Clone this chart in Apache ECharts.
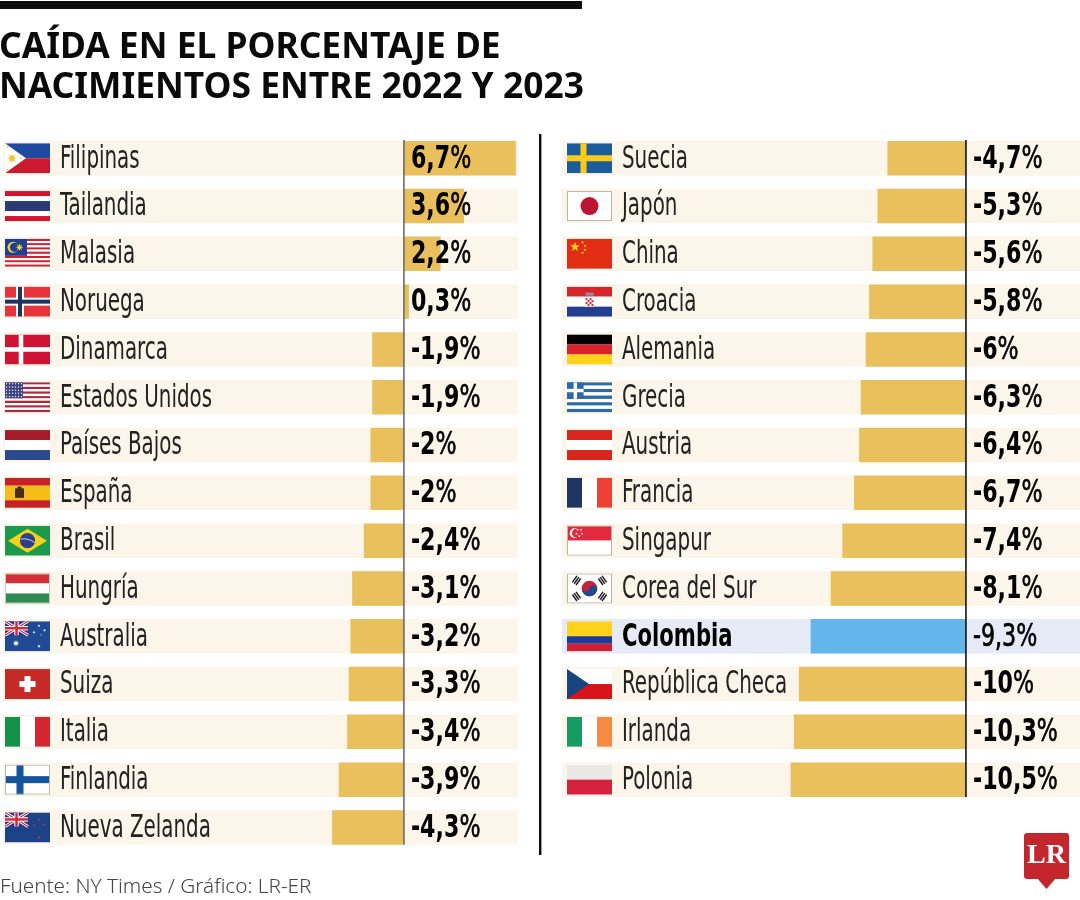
<!DOCTYPE html>
<html><head><meta charset="utf-8">
<style>html,body{margin:0;padding:0;background:#fff}#c{width:1080px;height:900px}</style>
<script src="https://cdn.jsdelivr.net/npm/echarts@6/dist/echarts.min.js"></script>
</head><body><div id="c"></div>
<script>
const titleText = 'CAÍDA EN EL PORCENTAJE DE\nNACIMIENTOS ENTRE 2022 Y 2023';
const sourceText = 'Fuente: NY Times / Gráfico: LR-ER';
const highlight = 'Colombia';

const leftCountries = ['Filipinas','Tailandia','Malasia','Noruega','Dinamarca','Estados Unidos','Países Bajos','España','Brasil','Hungría','Australia','Suiza','Italia','Finlandia','Nueva Zelanda'];
const leftValues = [6.7,3.6,2.2,0.3,-1.9,-1.9,-2,-2,-2.4,-3.1,-3.2,-3.3,-3.4,-3.9,-4.3];
const rightCountries = ['Suecia','Japón','China','Croacia','Alemania','Grecia','Austria','Francia','Singapur','Corea del Sur','Colombia','República Checa','Irlanda','Polonia'];
const rightValues = [-4.7,-5.3,-5.6,-5.8,-6,-6.3,-6.4,-6.7,-7.4,-8.1,-9.3,-10,-10.3,-10.5];

/* ---------- flag artwork ---------- */
const r=(x,y,w,h,c)=>`<rect x="${x}" y="${y}" width="${w}" height="${h}" fill="${c}"/>`;
const hs=cs=>cs.map((c,i)=>r(0,i*30/cs.length,45,30/cs.length+.05,c)).join('');
const vs=cs=>cs.map((c,i)=>r(i*45/cs.length,0,45/cs.length+.05,30,c)).join('');
const star=(cx,cy,R,c,n=5)=>{let p=[];for(let i=0;i<n*2;i++){const a=-Math.PI/2+i*Math.PI/n,q=i%2?R*.42:R;p.push((cx+q*Math.cos(a)).toFixed(2)+','+(cy+q*Math.sin(a)).toFixed(2));}return `<polygon points="${p.join(' ')}" fill="${c}"/>`;};
const circ=(x,y,R,c)=>`<circle cx="${x}" cy="${y}" r="${R}" fill="${c}"/>`;
const bord=`<rect x=".5" y=".5" width="44" height="29" fill="none" stroke="#b9b4a8" stroke-width="1"/>`;
const cross=(cx,cy,w,c)=>r(cx-w/2,0,w,30,c)+r(0,cy-w/2,45,w,c);
const jack=(w,h)=>`<g>${r(0,0,w,h,'#1f3a8a')}<path d="M0 0L${w} ${h}M${w} 0L0 ${h}" stroke="#fff" stroke-width="3"/><path d="M0 0L${w} ${h}M${w} 0L0 ${h}" stroke="#d4233c" stroke-width="1.1"/>${r(w/2-2.2,0,4.4,h,'#fff')}${r(0,h/2-2.2,w,4.4,'#fff')}${r(w/2-1.2,0,2.4,h,'#d4233c')}${r(0,h/2-1.2,w,2.4,'#d4233c')}</g>`;
const stripes=(n,a,b)=>Array.from({length:n},(_,i)=>i%2?b:a);
const dots=(x0,y0,nx,ny,dx,dy,c,R)=>{let s='';for(let j=0;j<ny;j++)for(let i=0;i<nx;i++)s+=circ(x0+i*dx,y0+j*dy,R,c);return s;};
const trig=(x,y,rot)=>`<g transform="translate(${x} ${y}) rotate(${rot})">${r(-4,-3,8,1.5,'#222')}${r(-4,-.75,8,1.5,'#222')}${r(-4,1.5,8,1.5,'#222')}</g>`;
let croatia='';for(let j=0;j<4;j++)for(let i=0;i<4;i++)if((i+j)%2==0)croatia+=r(18.5+i*2,11.5+j*2,2,2,'#d8232a');
const art = {
 'Filipinas': r(0,0,45,15,'#1f4aa0')+r(0,15,45,15,'#cb1a30')+'<polygon points="0,0 21,15 0,30" fill="#fff"/>'+star(7,15,5,'#f4c521',8)+circ(7,15,2.6,'#f4c521')+star(2.6,3.6,1.4,'#f4c521')+star(2.6,26.4,1.4,'#f4c521')+star(16,15,1.2,'#f4c521'),
 'Tailandia': r(0,0,45,30,'#fff')+r(0,0,45,5,'#d3132f')+r(0,25,45,5,'#d3132f')+r(0,10,45,10,'#2a3a75'),
 'Malasia': hs(stripes(14,'#cf2030','#fff'))+r(0,0,22,17,'#1f3f96')+circ(8,8.5,5.5,'#f7cf2a')+circ(9.6,8.5,4.6,'#1f3f96')+star(14.5,8.5,4,'#f7cf2a',8),
 'Noruega': r(0,0,45,30,'#e7343a')+cross(15,15,8,'#fff')+cross(15,15,4,'#20335f'),
 'Dinamarca': r(0,0,45,30,'#cf1335')+cross(16,15,4.6,'#fff'),
 'Estados Unidos': hs(stripes(13,'#a92a3f','#fff'))+r(0,0,18,16,'#3c4380')+dots(1.5,1.5,6,5,3,3.2,'#dfe2ee',.75),
 'Países Bajos': hs(['#a51c2a','#fff','#2a4a8d']),
 'España': r(0,0,45,30,'#f6bd1a')+r(0,0,45,7.5,'#c8202b')+r(0,22.5,45,7.5,'#c8202b')+r(10,10.5,9,9.5,'#4a2a1c')+r(12.5,8.8,4,2,'#222'),
 'Brasil': r(0,0,45,30,'#1a9a4a')+'<polygon points="22.5,3 42,15 22.5,27 3,15" fill="#f4d11a"/>'+circ(22.5,15,7.6,'#2b3f8c')+'<path d="M15.4 13.5Q23 12 29.8 17" stroke="#cfd6ea" stroke-width="1" fill="none"/>',
 'Hungría': hs(['#d62e36','#fff','#2f8a4f'])+bord.replace('#b9b4a8','#c9c9c0'),
 'Australia': r(0,0,45,30,'#1f4a96')+jack(23,14)+star(11,22,3.4,'#fff',7)+star(34,4.5,1.5,'#fff',7)+star(29,11,1.5,'#fff',7)+star(39.5,9,1.5,'#fff',7)+star(34,25,1.7,'#fff',7)+star(36,13.5,.9,'#fff'),
 'Suiza': r(0,0,45,30,'#c52a27')+r(19.5,7,6,16,'#fff')+r(14.5,12,16,6,'#fff'),
 'Italia': vs(['#14924a','#fff','#d6252f']),
 'Finlandia': r(0,0,45,30,'#fff')+cross(15,15,7,'#15559c')+bord,
 'Nueva Zelanda': r(0,0,45,30,'#1c4287')+jack(23,14)+star(34,7,1.6,'#c9344a')+star(29,13,1.6,'#c9344a')+star(39,12,1.6,'#c9344a')+star(34,25,1.8,'#c9344a'),
 'Suecia': r(0,0,45,30,'#1b5d9b')+cross(16.5,15,6,'#fdcb17'),
 'Japón': r(0,0,45,30,'#fff')+circ(22.5,15,9,'#bc1533')+bord,
 'China': r(0,0,45,30,'#e02d14')+star(8,8,5,'#f7d117')+star(15.5,3.5,1.7,'#f7d117')+star(18,7,1.7,'#f7d117')+star(18,11,1.7,'#f7d117')+star(15.5,14,1.7,'#f7d117'),
 'Croacia': hs(['#d8232a','#fff','#233e8f'])+r(18.5,6,8,3,'#8b93a8')+r(18,11,9,9,'#fff')+croatia,
 'Alemania': hs(['#000','#d8232a','#ffd31a']),
 'Grecia': hs(stripes(9,'#2a6aad','#fff'))+r(0,0,16.6,16.6,'#2a6aad')+r(6.6,0,3.4,16.6,'#fff')+r(0,6.6,16.6,3.4,'#fff'),
 'Austria': hs(['#d9261c','#fff','#d9261c']),
 'Francia': vs(['#1e3564','#fff','#ee4035']),
 'Singapur': r(0,0,45,15,'#e4283e')+r(0,15,45,15,'#fff')+circ(7.5,7.5,4.8,'#fff')+circ(9.4,7.5,4.4,'#e4283e')+dots(10.5,4,1,1,0,0,'#fff',.9)+dots(14,4,1,1,0,0,'#fff',.9)+dots(9.5,8,1,1,0,0,'#fff',.9)+dots(15,8,1,1,0,0,'#fff',.9)+dots(12.3,10.5,1,1,0,0,'#fff',.9)+bord,
 'Corea del Sur': r(0,0,45,30,'#fff')+circ(22.5,15,7.8,'#c8203b')+'<path d="M14.9 13.2A7.8 7.8 0 0 0 30.1 16.8A3.9 3.9 0 0 0 22.5 15A3.9 3.9 0 0 1 14.9 13.2Z" fill="#1d4a8f"/>'+trig(9.5,7,-55)+trig(35.5,7,55)+trig(9.5,23,55)+trig(35.5,23,-55)+bord,
 'Colombia': r(0,0,45,15,'#ffd31a')+r(0,15,45,7.5,'#1f3a93')+r(0,22.5,45,7.5,'#cf1f34'),
 'República Checa': r(0,0,45,15,'#fff')+r(0,15,45,15,'#d7141a')+'<polygon points="0,0 22,15 0,30" fill="#17457e"/>',
 'Irlanda': vs(['#169b62','#fff','#f58a42']),
 'Polonia': r(0,0,45,15,'#e8e8e6')+r(0,15,45,15,'#d4213d')
};
const flagUri = n => 'data:image/svg+xml;charset=utf-8,' + encodeURIComponent(`<svg xmlns="http://www.w3.org/2000/svg" width="90" height="60" viewBox="0 0 45 30" shape-rendering="geometricPrecision">${art[n]}</svg>`);

/* ---------- shared drawing settings ---------- */
const BAR_H = 34.5, PITCH = 47.8;
const NAME_FONT = '"Liberation Sans Narrow","DejaVu Sans Condensed",sans-serif';
const rowRender = names => (params, api) => {
  const i = api.value(0), cs = params.coordSys, y = api.coord([0, i])[1];
  return {type:'rect', shape:{x:cs.x, y:y-BAR_H/2, width:cs.width, height:BAR_H},
    style:{fill: names[i]===highlight ? '#e6ebf7' : '#fbf5ea'}};
};
const fmt = v => String(v).replace('.', ',');
const overlayRender = (names, values, flagDx, nameDx, lineColor) => (params, api) => {
  const i = api.value(0), cs = params.coordSys, [x0, y] = api.coord([0, i]), name = names[i], hl = name === highlight;
  const kids = [
    {type:'image', style:{image:flagUri(name), x:cs.x+flagDx, y:y-15, width:45, height:30}},
    {type:'text', x:cs.x+nameDx, y:y+1, scaleX: hl ? 0.735 : 0.69,
      style:{text:name, fill: hl ? '#000' : '#222', verticalAlign:'middle', align:'left',
        fontFamily:NAME_FONT, fontSize:32, fontWeight: hl ? 'bold' : 'normal'}},
    {type:'text', x:x0+7, y:y+1, scaleX:0.77,
      style:{text:`{n|${fmt(values[i])}}{p|%}`, verticalAlign:'middle', align:'left',
        rich:{n:{fontFamily:NAME_FONT, fontSize:32, fontWeight: hl ? 'normal' : 'bold', fill:'#000',
                 stroke: hl ? '#000' : 'transparent', lineWidth: hl ? 0.7 : 0},
              p:{fontFamily:NAME_FONT, fontSize:32, fontWeight:'normal', fill:'#000', stroke:'#000', lineWidth:0.6}}}}
  ];
  if (i === 0) {
    const last = api.coord([0, names.length-1])[1];
    kids.unshift({type:'line', shape:{x1:x0, y1:y-BAR_H/2-1, x2:x0, y2:last+BAR_H/2}, style:{stroke:lineColor, lineWidth:1.6}});
  }
  return {type:'group', children:kids};
};
const panel = (idx, names, values, flagDx, nameDx, lineColor) => [
  {type:'custom', xAxisIndex:idx, yAxisIndex:idx, z:1, silent:true, data:names.map((_,i)=>[i]), encode:{y:0},
    renderItem:rowRender(names)},
  {type:'bar', xAxisIndex:idx, yAxisIndex:idx, z:2, silent:true, barWidth:BAR_H,
    data:values.map((v,i)=>({value:v, itemStyle:{color:names[i]===highlight?'#62b6e9':'#e9c05c'}}))},
  {type:'custom', xAxisIndex:idx, yAxisIndex:idx, z:3, silent:true, data:names.map((_,i)=>[i]), encode:{y:0},
    renderItem:overlayRender(names, values, flagDx, nameDx, lineColor)}
];

const chart = echarts.init(document.getElementById('c'));
const hiddenY = (names, g) => ({type:'category', gridIndex:g, data:names, inverse:true, show:false});
const hiddenX = (g, min, max) => ({type:'value', gridIndex:g, min, max, show:false});
chart.setOption({
  animation:false, backgroundColor:'#fff',
  title:{text:titleText, left:-1, top:27.5, padding:0, itemGap:0,
    textStyle:{fontFamily:'"Noto Sans"', fontWeight:'bold', fontSize:35.4, lineHeight:40, color:'#0a0a0a'}},
  grid:[
    {left:3, width:515, top:141+BAR_H/2-PITCH/2, height:PITCH*leftCountries.length},
    {left:562, width:518, top:141+BAR_H/2-PITCH/2, height:PITCH*rightCountries.length}
  ],
  xAxis:[hiddenX(0,-24,6.83), hiddenX(1,-24.19,6.83)],
  yAxis:[hiddenY(leftCountries,0), hiddenY(rightCountries,1)],
  series:[...panel(0,leftCountries,leftValues,2,57,'#6b6b6b'), ...panel(1,rightCountries,rightValues,5,60,'#111')],
  graphic:[
    {type:'rect', left:0, top:1, shape:{width:582, height:8}, style:{fill:'#0c0c0c'}},
    {type:'rect', left:539, top:134, shape:{width:2.4, height:721}, style:{fill:'#0c0c0c'}},
    {type:'text', left:0, top:877, style:{text:sourceText, fontFamily:'"Noto Sans"', fontWeight:300, fontSize:20.7, fill:'#444'}},
    {type:'group', left:1024, top:833, children:[
      {type:'rect', shape:{x:0, y:0, width:45, height:46, r:3}, style:{fill:'#c4262e'}},
      {type:'polygon', shape:{points:[[13,45],[32,45],[22.5,56]]}, style:{fill:'#c4262e'}},
      {type:'text', x:22.5, y:23, style:{text:'LR', align:'center', verticalAlign:'middle', fontFamily:'"Liberation Serif"', fontWeight:'bold', fontSize:28, fill:'#fff'}}
    ]}
  ]
});
</script></body></html>
